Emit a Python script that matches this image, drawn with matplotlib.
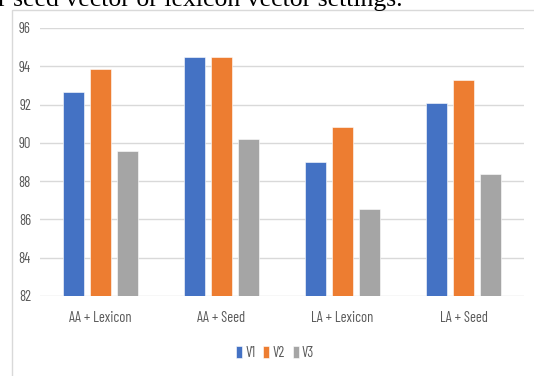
import matplotlib
matplotlib.use("Agg")
import matplotlib.pyplot as plt
import numpy as np
from matplotlib.patches import Rectangle

categories = ["AA + Lexicon", "AA + Seed", "LA + Lexicon", "LA + Seed"]
series_names = ["V1", "V2", "V3"]
v1 = [92.64, 94.49, 89.0, 92.07]
v2 = [93.86, 94.49, 90.81, 93.27]
v3 = [89.59, 90.22, 86.53, 88.37]
yticks = [82, 84, 86, 88, 90, 92, 94, 96]
colors = ["#4472C4", "#ED7D31", "#A5A5A5"]

narrow = ["Barlow Condensed", "Archivo Narrow", "Lato", "DejaVu Sans"]
fsz = 10.5

fig = plt.figure(figsize=(5.34, 3.76), dpi=100)
fig.patch.set_facecolor("white")

# outer chart frame
fig.patches.append(Rectangle((12/534, -0.1), 1.2, (376-10)/376 + 0.1, transform=fig.transFigure,
                             fill=False, edgecolor="#d9d9d9", linewidth=1.0))

fig.text(-0.004, 1 - 6/376, "r seed vector or lexicon vector settings.",
         family="Liberation Serif", fontsize=18.5, va="baseline", ha="left", color="black")

ax = fig.add_axes([40/534, 1 - 296/376, 484/534, 268/376])
x = np.arange(len(categories))
w = 0.174
off = 0.223
for i, (vals, c, n) in enumerate(zip([v1, v2, v3], colors, series_names)):
    ax.bar(x + (i - 1) * off, np.array(vals) - 82, bottom=82, width=w, color=c, label=n,
           edgecolor="white", linewidth=0.4, zorder=3)

ax.set_xlim(-0.5, 3.5)
ax.set_ylim(82, 96)
ax.set_yticks(yticks)
ax.set_yticklabels([str(t) for t in yticks], family=narrow, fontsize=fsz, color="#595959")
ax.set_xticks(x)
ax.set_xticklabels(categories, family=narrow, fontsize=fsz, color="#595959")
ax.tick_params(axis="both", length=0)
ax.tick_params(axis="y", pad=6.5)
ax.tick_params(axis="x", pad=10.5)
ax.grid(axis="y", color="#d9d9d9", linewidth=1.0, zorder=0)
for s in ax.spines.values():
    s.set_visible(False)

leg = ax.legend(loc="center", bbox_to_anchor=(275/534, 1 - 353/376), bbox_transform=fig.transFigure,
                ncol=3, frameon=False, handlelength=0.42, handleheight=0.9, handletextpad=0.2,
                columnspacing=0.55, prop={"family": narrow, "size": fsz})
for t in leg.get_texts():
    t.set_color("#595959")

fig.savefig("out.png", dpi=100)
